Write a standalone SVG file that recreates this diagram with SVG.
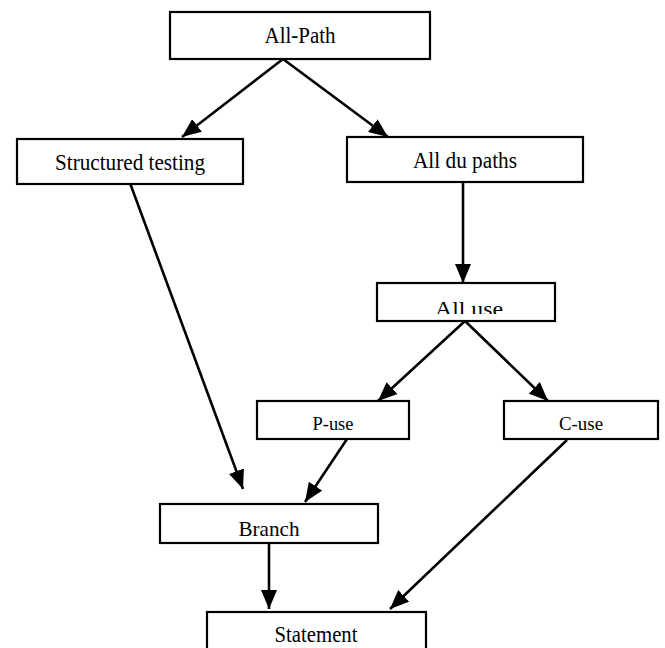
<svg xmlns="http://www.w3.org/2000/svg" width="665" height="648" viewBox="0 0 665 648">
<style>
.box{fill:#fff;stroke:#000;stroke-width:2.2}
.lbl{font-family:"Liberation Serif","Times New Roman",serif;fill:#000;text-anchor:middle}
.big{font-size:23px}
.sm{font-size:19px}
.edge{stroke:#000;stroke-width:2.6;fill:none;marker-end:url(#ah)}
</style>
<defs>
<marker id="ah" markerUnits="userSpaceOnUse" markerWidth="19" markerHeight="16" refX="19" refY="8" orient="auto">
<path d="M0,0 L19,8 L0,16 z" fill="#000"/>
</marker>
<clipPath id="cAllUse"><rect x="377" y="283" width="178" height="31"/></clipPath>
<clipPath id="cBranch"><rect x="160" y="504" width="218" height="32"/></clipPath>
</defs>
<rect width="665" height="648" fill="#fff"/>
<g id="connectors">
<line class="edge" x1="283" y1="59" x2="182" y2="137"/>
<line class="edge" x1="283" y1="59" x2="388" y2="137"/>
<line class="edge" x1="463" y1="182" x2="463" y2="283"/>
<line class="edge" x1="465" y1="321" x2="378" y2="401"/>
<line class="edge" x1="465" y1="321" x2="548" y2="401"/>
<line class="edge" x1="130" y1="183" x2="243" y2="489"/>
<line class="edge" x1="347" y1="439" x2="305" y2="502"/>
<line class="edge" x1="269" y1="543" x2="269" y2="609"/>
<line class="edge" x1="567" y1="440" x2="390" y2="609"/>
</g>
<g id="all-path">
<rect class="box" x="170" y="12" width="260" height="47"/>
<text class="lbl big" x="300" y="43" textLength="71" lengthAdjust="spacingAndGlyphs">All-Path</text>
</g>
<g id="structured-testing">
<rect class="box" x="17" y="139" width="226" height="45"/>
<text class="lbl big" x="130" y="170" textLength="150" lengthAdjust="spacingAndGlyphs">Structured testing</text>
</g>
<g id="all-du-paths">
<rect class="box" x="347" y="137" width="236" height="45"/>
<text class="lbl big" x="465" y="168" textLength="104" lengthAdjust="spacingAndGlyphs">All du paths</text>
</g>
<g id="all-use">
<rect class="box" x="377" y="283" width="178" height="38"/>
<text class="lbl" font-size="22" x="469" y="316" textLength="68" lengthAdjust="spacingAndGlyphs" clip-path="url(#cAllUse)">All use</text>
</g>
<g id="p-use">
<rect class="box" x="257" y="401" width="152" height="38"/>
<text class="lbl sm" x="333" y="430" textLength="41" lengthAdjust="spacingAndGlyphs">P-use</text>
</g>
<g id="c-use">
<rect class="box" x="504" y="401" width="154" height="38"/>
<text class="lbl sm" x="581" y="430" textLength="44" lengthAdjust="spacingAndGlyphs">C-use</text>
</g>
<g id="branch">
<rect class="box" x="160" y="504" width="218" height="39"/>
<text class="lbl" font-size="22" x="269" y="536" textLength="61" lengthAdjust="spacingAndGlyphs" clip-path="url(#cBranch)">Branch</text>
</g>
<g id="statement">
<rect class="box" x="207" y="612" width="219" height="42"/>
<text class="lbl big" x="316" y="642" textLength="83" lengthAdjust="spacingAndGlyphs">Statement</text>
</g>
</svg>
